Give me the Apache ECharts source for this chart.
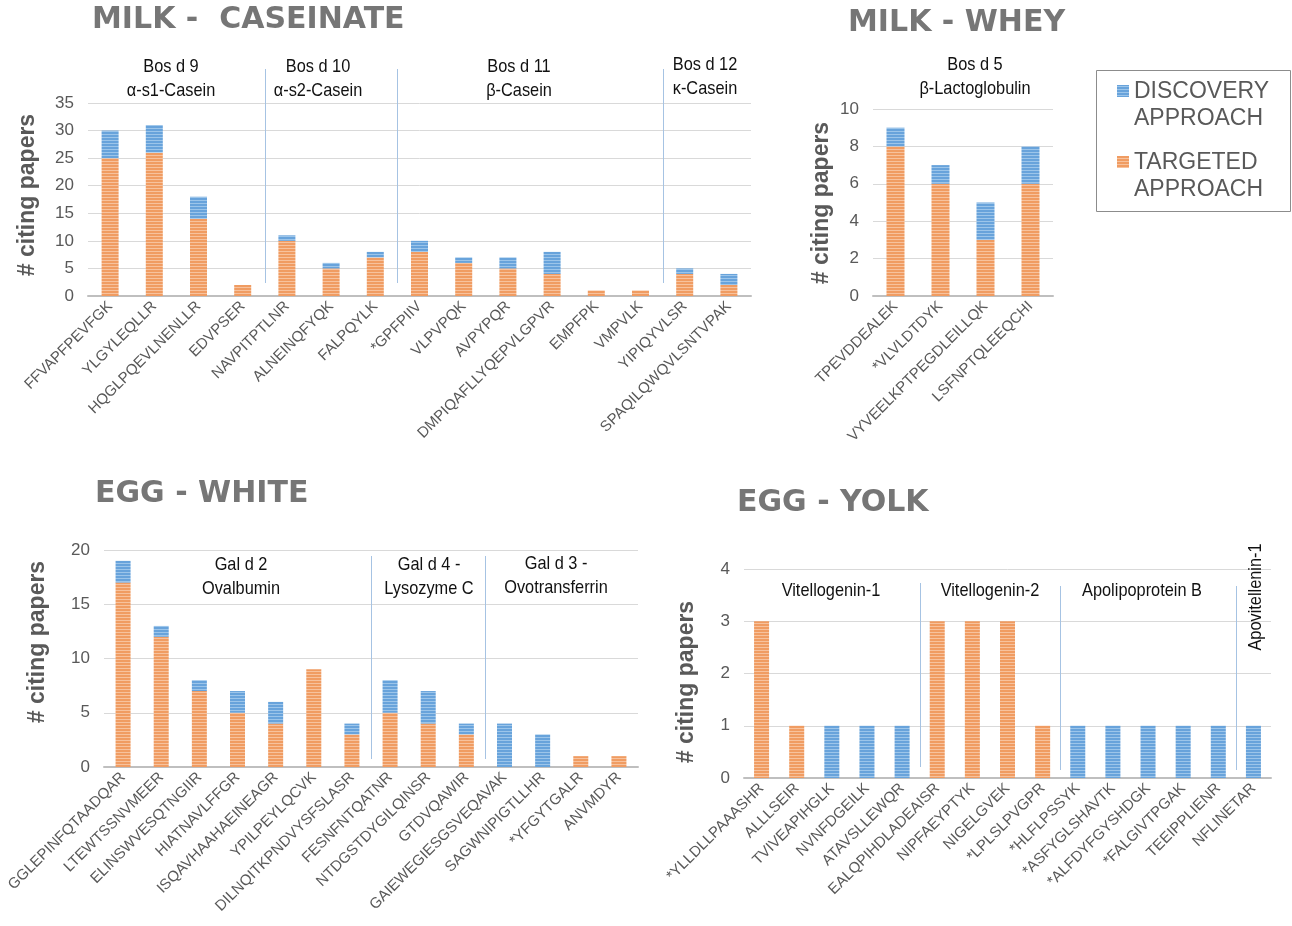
<!DOCTYPE html>
<html><head><meta charset="utf-8">
<script src="https://cdn.jsdelivr.net/npm/echarts@6/dist/echarts.min.js"></script>
<style>html,body{margin:0;padding:0;background:#fff}#c{width:1292px;height:926px}</style>
</head><body><div id="c"></div>
<script>
// ---------- DATA ----------
const caseinateCategories = ['FFVAPFPEVFGK','YLGYLEQLLR','HQGLPQEVLNENLLR','EDVPSER','NAVPITPTLNR','ALNEINQFYQK','FALPQYLK','*GPFPIIV','VLPVPQK','AVPYPQR','DMPIQAFLLYQEPVLGPVR','EMPFPK','VMPVLK','YIPIQYVLSR','SPAQILQWQVLSNTVPAK'];
const caseinateTargeted  = [25,26,14,2,10,5,7,8,6,5,4,1,1,4,2];
const caseinateDiscovery = [5,5,4,0,1,1,1,2,1,2,4,0,0,1,2];

const wheyCategories = ['TPEVDDEALEK','*VLVLDTDYK','VYVEELKPTPEGDLEILLQK','LSFNPTQLEEQCHI'];
const wheyTargeted  = [8,6,3,6];
const wheyDiscovery = [1,1,2,2];

const whiteCategories = ['GGLEPINFQTAADQAR','LTEWTSSNVMEER','ELINSWVESQTNGIIR','HIATNAVLFFGR','ISQAVHAAHAEINEAGR','YPILPEYLQCVK','DILNQITKPNDVYSFSLASR','FESNFNTQATNR','NTDGSTDYGILQINSR','GTDVQAWIR','GAIEWEGIESGSVEQAVAK','SAGWNIPIGTLLHR','*YFGYTGALR','ANVMDYR'];
const whiteTargeted  = [17,12,7,5,4,9,3,5,4,3,0,0,1,1];
const whiteDiscovery = [2,1,1,2,2,0,1,3,3,1,4,3,0,0];

const yolkCategories = ['*YLLDLLPAAASHR','ALLLSEIR','TVIVEAPIHGLK','NVNFDGEILK','ATAVSLLEWQR','EALQPIHDLADEAISR','NIPFAEYPTYK','NIGELGVEK','*LPLSLPVGPR','*HLFLPSSYK','*ASFYGLSHAVTK','*ALFDYFGYSHDGK','*FALGIVTPGAK','TEEIPPLIENR','NFLINETAR'];
const yolkTargeted  = [3,1,0,0,0,3,3,3,1,0,0,0,0,0,0];
const yolkDiscovery = [0,0,1,1,1,0,0,0,0,1,1,1,1,1,1];

const seriesNames = ['TARGETED APPROACH','DISCOVERY APPROACH'];
const legendLabels = ['DISCOVERY\nAPPROACH','TARGETED\nAPPROACH'];
const panelTitles = ['MILK -  CASEINATE','MILK - WHEY','EGG - WHITE','EGG - YOLK'];
const yMax = [35,10,20,4];
const yInterval = [5,2,5,1];

// ---------- STYLE ----------
function stripe(base, light){
  const c=document.createElement('canvas'); c.width=6; c.height=3;
  const g=c.getContext('2d'); g.fillStyle=base; g.fillRect(0,0,6,3);
  g.fillStyle=light; g.fillRect(0,2,6,1); return c;
}
const orangePat = {image: stripe('#f09c62','#f7c29d'), repeat:'repeat'};
const bluePat   = {image: stripe('#68a3db','#9cc5ea'), repeat:'repeat'};

const grids = [
  {left:88, top:103, width:663, height:193},
  {left:873, top:109, width:180, height:187},
  {left:104, top:550, width:534, height:217},
  {left:744, top:569, width:527, height:209}
];
const barWidths=[17,18,15,15];
const cats=[caseinateCategories,wheyCategories,whiteCategories,yolkCategories];
const targ=[caseinateTargeted,wheyTargeted,whiteTargeted,yolkTargeted];
const disc=[caseinateDiscovery,wheyDiscovery,whiteDiscovery,yolkDiscovery];

const xAxis=[],yAxis=[],series=[];
for(let i=0;i<4;i++){
  xAxis.push({type:'category',gridIndex:i,data:cats[i],
    axisLine:{show:true,lineStyle:{color:'#bfbfbf',width:2}},
    axisTick:{show:false},
    axisLabel:{interval:0,rotate:45,margin:8,fontSize:15,color:'#595959',fontFamily:'Liberation Sans, Arial, sans-serif'}});
  yAxis.push({type:'value',gridIndex:i,min:0,max:yMax[i],interval:yInterval[i],
    axisLine:{show:false},axisTick:{show:false},
    splitLine:{lineStyle:{color:'#d9d9d9',width:1}},
    axisLabel:{fontSize:17,color:'#595959',margin:14,fontFamily:'Liberation Sans, Arial, sans-serif'}});
  series.push({name:seriesNames[0],type:'bar',stack:'s'+i,xAxisIndex:i,yAxisIndex:i,barWidth:barWidths[i],
    data:targ[i],itemStyle:{color:orangePat},silent:true});
  series.push({name:seriesNames[1],type:'bar',stack:'s'+i,xAxisIndex:i,yAxisIndex:i,barWidth:barWidths[i],
    data:disc[i],itemStyle:{color:bluePat},silent:true});
}

const chart=echarts.init(document.getElementById('c'),null,{renderer:'canvas'});
chart.setOption({backgroundColor:'#fff',animation:false,grid:grids,xAxis,yAxis,series});

// ---------- ANNOTATIONS ----------
const G=[];
const titleFont='bold 30px "DejaVu Sans", sans-serif';
const titlePos=[[92,20],[848,23],[95,494],[737,503]];
panelTitles.forEach((t,i)=>G.push({type:'text',x:titlePos[i][0],y:titlePos[i][1],
  style:{text:t,font:titleFont,fill:'#767676',align:'left',verticalAlign:'middle'}}));

const yName='# citing papers';
const yNamePos=[[28,195],[822,203],[38,642],[687,682]];
yNamePos.forEach(p=>G.push({type:'text',x:p[0],y:p[1],rotation:Math.PI/2,
  style:{text:yName,font:'bold 23px "Liberation Sans", Arial, sans-serif',fill:'#595959',align:'center',verticalAlign:'middle'}}));

const groupFont='19px "Liberation Sans", Arial, sans-serif';
const groups=[
  ['Bos d 9\nα-s1-Casein',171,79],['Bos d 10\nα-s2-Casein',318,79],['Bos d 11\nβ-Casein',519,79],['Bos d 12\nκ-Casein',705,77],
  ['Bos d 5\nβ-Lactoglobulin',975,77],
  ['Gal d 2\nOvalbumin',241,577],['Gal d 4 -\nLysozyme C',429,577],['Gal d 3 -\nOvotransferrin',556,576],
  ['Vitellogenin-1',831,591],['Vitellogenin-2',990,591],['Apolipoprotein B',1142,591]
];
groups.forEach(g=>G.push({type:'text',x:g[1],y:g[2],scaleX:0.86,
  style:{text:g[0],font:groupFont,fill:'#111',align:'center',verticalAlign:'middle',lineHeight:24}}));
G.push({type:'text',x:1256,y:597,rotation:Math.PI/2,scaleX:0.86,
  style:{text:'Apovitellenin-1',font:groupFont,fill:'#111',align:'center',verticalAlign:'middle'}});

// separators between protein groups (after category index)
const seps=[[0,3,69,283],[0,6,69,283],[0,12,69,283],[2,6,556,759],[2,9,556,759],[3,4,583,767],[3,8,586,770],[3,13,586,770]];
seps.forEach(s=>{
  const x1=chart.convertToPixel({xAxisIndex:s[0]},s[1]);
  const x2=chart.convertToPixel({xAxisIndex:s[0]},s[1]+1);
  const x=Math.round((x1+x2)/2)+0.5;
  G.push({type:'line',shape:{x1:x,y1:s[2],x2:x,y2:s[3]},style:{stroke:'#a6c3e3',lineWidth:1}});
});

// legend box
G.push({type:'rect',shape:{x:1096.5,y:70.5,width:194,height:141},style:{fill:'#fff',stroke:'#8c8c8c',lineWidth:1}});
G.push({type:'rect',shape:{x:1117,y:85,width:12,height:12},style:{fill:bluePat}});
G.push({type:'text',x:1134,y:78,style:{text:legendLabels[0],font:'23px "Liberation Sans", Arial, sans-serif',fill:'#595959',align:'left',verticalAlign:'top',lineHeight:27}});
G.push({type:'rect',shape:{x:1117,y:156,width:12,height:12},style:{fill:orangePat}});
G.push({type:'text',x:1134,y:149,style:{text:legendLabels[1],font:'23px "Liberation Sans", Arial, sans-serif',fill:'#595959',align:'left',verticalAlign:'top',lineHeight:27}});

chart.setOption({graphic:G});
</script></body></html>
